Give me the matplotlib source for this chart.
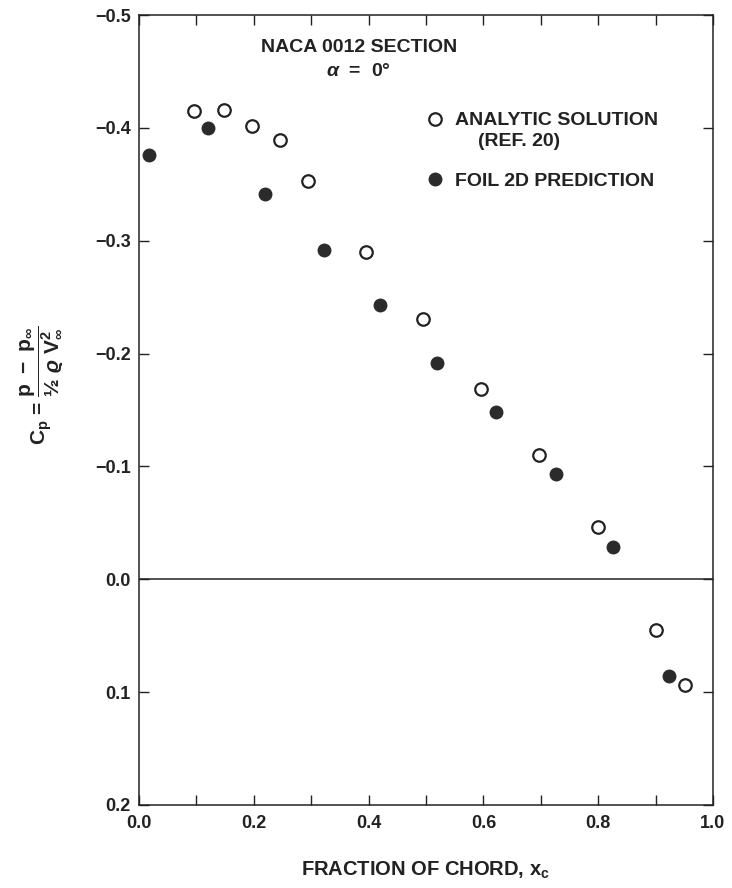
import matplotlib
matplotlib.use('Agg')
import matplotlib.pyplot as plt
from matplotlib.lines import Line2D

plt.rcParams['font.family'] = ['Liberation Sans', 'DejaVu Sans']
plt.rcParams['font.weight'] = 'bold'
plt.rcParams['mathtext.fontset'] = 'custom'
plt.rcParams['mathtext.rm'] = 'Liberation Sans:bold'
plt.rcParams['mathtext.bf'] = 'Liberation Sans:bold'
plt.rcParams['mathtext.it'] = 'Liberation Sans:italic'

# pressure coefficient along the chord, NACA 0012 at zero incidence
analytic_x = [0.095, 0.148, 0.197, 0.246, 0.294, 0.395, 0.494, 0.596, 0.697, 0.799, 0.901, 0.952]
analytic_cp = [-0.415, -0.416, -0.402, -0.389, -0.353, -0.290, -0.231, -0.169, -0.110, -0.046, 0.045, 0.094]

foil_x = [0.017, 0.120, 0.220, 0.322, 0.420, 0.519, 0.622, 0.726, 0.825, 0.924]
foil_cp = [-0.376, -0.400, -0.341, -0.292, -0.243, -0.192, -0.148, -0.093, -0.029, 0.086]

x_ticks = [0.0, 0.1, 0.2, 0.3, 0.4, 0.5, 0.6, 0.7, 0.8, 0.9, 1.0]
x_tick_labels = ['0.0', '', '0.2', '', '0.4', '', '0.6', '', '0.8', '', '1.0']
y_ticks = [-0.5, -0.4, -0.3, -0.2, -0.1, 0.0, 0.1, 0.2]
y_tick_labels = ['\u22120.5', '\u22120.4', '\u22120.3', '\u22120.2', '\u22120.1', '0.0', '0.1', '0.2']

ink = '#222222'

fig = plt.figure(figsize=(7.32, 8.88), dpi=100)
ax = fig.add_axes([0.190, 0.0935, 0.784, 0.8896])

ax.axhline(0.0, color=ink, lw=1.1, zorder=1)
ax.plot(analytic_x, analytic_cp, ls='none', marker='o', ms=9, mfc='white', mec=ink, mew=1.6, zorder=3)
ax.plot(foil_x, foil_cp, ls='none', marker='o', ms=9, mfc='#2b2b2b', mec='#2b2b2b', mew=1.0, zorder=3)

ax.set_xlim(0, 1)
ax.set_ylim(0.2, -0.5)
ax.set_xticks(x_ticks)
ax.set_xticklabels(x_tick_labels)
ax.set_yticks(y_ticks)
ax.set_yticklabels(y_tick_labels)
ax.tick_params(direction='in', length=7.5, width=1.0, top=True, right=True,
               labelsize=13, colors=ink)
ax.tick_params(axis='y', pad=6)
ax.tick_params(axis='x', pad=7)
for s in ax.spines.values():
    s.set_linewidth(1.1)
    s.set_color(ink)

ax.text(0.383, 0.959, 'NACA 0012 SECTION', transform=ax.transAxes,
        ha='center', va='center', fontsize=14, color=ink)
ax.text(0.3815, 0.928, r'$\alpha$  =  0°', transform=ax.transAxes,
        ha='center', va='center', fontsize=14, color=ink)

handles = [
    Line2D([], [], ls='none', marker='o', ms=9, mfc='white', mec=ink, mew=1.6),
    Line2D([], [], ls='none', marker='o', ms=9, mfc='#2b2b2b', mec='#2b2b2b'),
]
ax.legend(handles, ['ANALYTIC SOLUTION', 'FOIL 2D PREDICTION'], loc='upper left',
          bbox_to_anchor=(0.499, 0.8775), frameon=False, handlelength=1.0,
          handletextpad=0.53, labelspacing=2.2, borderpad=0, borderaxespad=0,
          fontsize=14, labelcolor=ink)
ax.text(0.662, 0.8405, '(REF. 20)', transform=ax.transAxes,
        ha='center', va='center', fontsize=14, color=ink)

ylab = (r'$\mathbf{C_p}$ = '
        r'$\dfrac{\mathbf{p\ -\ p_\infty}}{\mathbf{½}\ \varrho\ \mathbf{V^2_\infty}}$')
fig.text(0.056, 1 - 385 / 888, ylab, rotation=90, ha='center', va='center',
         fontsize=15, color=ink)

fig.text(425 / 732, 1 - 870 / 888, r'FRACTION OF CHORD, $\mathbf{x_c}$',
         ha='center', va='center', fontsize=14.5, color=ink)

fig.savefig('out.png', dpi=100)
